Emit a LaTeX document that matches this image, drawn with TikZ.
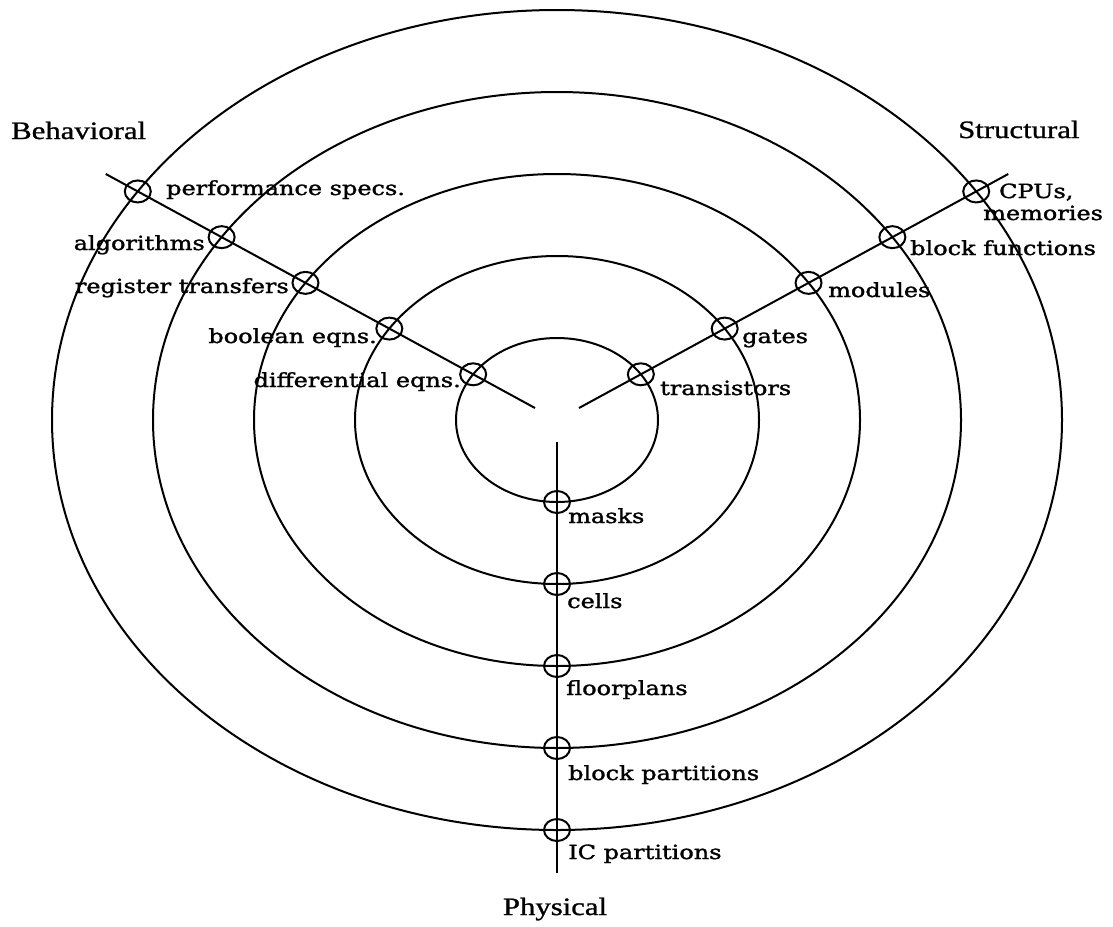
\documentclass[tikz,border=0pt]{standalone}
\usepackage{fontspec}
\setmainfont[FakeStretch=1.23,FakeBold=1]{Liberation Serif}
\newfontfamily\lblfont[FakeStretch=1.23,FakeBold=1.6]{DejaVu Serif}
\usetikzlibrary{shapes.geometric,calc}
\begin{document}
\begin{tikzpicture}[x=1pt,y=1pt,
  ring/.style={line width=2pt},
  axisline/.style={line width=2pt},
  mk/.style={draw, line width=2pt, ellipse, minimum width=26pt, minimum height=22pt, inner sep=0pt},
  head/.style={inner sep=0pt, font=\fontsize{25}{30}\selectfont},
  lbl/.style={inner sep=0pt, font=\lblfont\fontsize{19.5}{23}\selectfont}]
\fill[white] (0,0) rectangle (1113,-926);
\useasboundingbox (0,0) rectangle (1113,-926);
\coordinate (C) at (557,-420);
% rings
\foreach \k in {1,...,5}
  \draw[ring] (C) ellipse [x radius={101*\k}, y radius={82*\k}];
% axes
\coordinate (Lin)  at ($(C)+(151.4:25)$);
\coordinate (Lout) at ($(C)+(151.4:514)$);
\coordinate (Rin)  at ($(C)+(28.6:25)$);
\coordinate (Rout) at ($(C)+(28.6:514)$);
\coordinate (Pin)  at ($(C)+(0,-22)$);
\coordinate (Pout) at ($(C)+(0,-453)$);
\draw[axisline] (Lin) -- (Lout);
\draw[axisline] (Rin) -- (Rout);
\draw[axisline] (Pin) -- (Pout);
% markers
\foreach \k in {1,...,5} {
  \node[mk] (b\k) at ($(C)+(151.4:{95.5*\k})$) {};
  \node[mk] (s\k) at ($(C)+(28.6:{95.5*\k})$) {};
  \node[mk] (p\k) at ($(C)+(0,{-82*\k})$) {};
}
% headings
\node[head, anchor=base west] (beh) at (11,-139) {Behavioral};
\node[head, anchor=base west] (str) at (958,-138) {Structural};
\node[head, anchor=base] (phy) at (555,-915) {Physical};
% behavioral labels
\node[lbl, anchor=base west] (tperf) at (166,-195) {performance specs.};
\node[lbl, anchor=base east] (talg) at (205,-250) {algorithms};
\node[lbl, anchor=base east] (treg) at (289,-293) {register transfers};
\node[lbl, anchor=base east] (tbool) at (377,-343) {boolean eqns.};
\node[lbl, anchor=base east] (tdiff) at (461,-387) {differential eqns.};
% structural labels
\node[lbl, anchor=base west] (tcpu) at (999,-198) {CPUs,};
\node[lbl, anchor=base west] (tmem) at (983,-220) {memories};
\node[lbl, anchor=base west] (tblk) at (910,-255) {block functions};
\node[lbl, anchor=base west] (tmod) at (828,-297) {modules};
\node[lbl, anchor=base west] (tgate) at (742,-343) {gates};
\node[lbl, anchor=base west] (ttr) at (660,-395) {transistors};
% physical labels
\node[lbl, anchor=base west] (tmask) at (568,-523) {masks};
\node[lbl, anchor=base west] (tcell) at (567,-608) {cells};
\node[lbl, anchor=base west] (tfloor) at (566,-695) {floorplans};
\node[lbl, anchor=base west] (tbpart) at (568,-780) {block partitions};
\node[lbl, anchor=base west] (tic) at (568,-859) {IC partitions};
\end{tikzpicture}
\end{document}
